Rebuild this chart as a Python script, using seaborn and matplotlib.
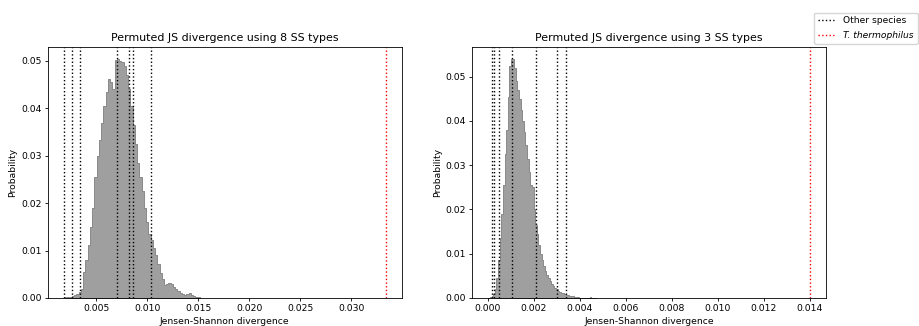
import numpy as np
import pandas as pd
import matplotlib
matplotlib.use("Agg")
import matplotlib.pyplot as plt
import seaborn as sns
from matplotlib.lines import Line2D

# ---- data ----
# 8 SS types: bin heights (probability), uniform bins
ss8_start = 0.00197
ss8_width = 0.00022
ss8_heights = [0.0001, 0.0002, 0.0003, 0.0005, 0.0007, 0.0009, 0.0012, 0.0018,
               0.0055, 0.0080, 0.0112, 0.0150, 0.0190, 0.0255, 0.0300, 0.0332,
               0.0368, 0.0405, 0.0435, 0.0462, 0.0455, 0.0440, 0.0502, 0.0504,
               0.0500, 0.0497, 0.0490, 0.0470, 0.0440, 0.0405, 0.0365, 0.0325,
               0.0285, 0.0255, 0.0225, 0.0190, 0.0160, 0.0135, 0.0122, 0.0105,
               0.0090, 0.0072, 0.0052, 0.0040, 0.0028, 0.0030, 0.0032, 0.0029,
               0.0024, 0.0019, 0.0014, 0.0011, 0.0008, 0.0006, 0.0009, 0.0011,
               0.0007, 0.0005, 0.0003, 0.0002]
ss8_other = [0.00185, 0.00266, 0.00347, 0.00704, 0.00824, 0.00860, 0.01035]
ss8_tth = 0.03333

# 3 SS types
ss3_start = 0.00002
ss3_width = 0.00007
ss3_heights = [0.0001, 0.0002, 0.0004, 0.0008, 0.0020, 0.0045, 0.0085, 0.0135,
               0.0190, 0.0255, 0.0325, 0.0380, 0.0455, 0.0525, 0.0540, 0.0540,
               0.0520, 0.0490, 0.0470, 0.0450, 0.0425, 0.0400, 0.0375, 0.0345,
               0.0315, 0.0285, 0.0255, 0.0250, 0.0200, 0.0165, 0.0145, 0.0120,
               0.0100, 0.0085, 0.0072, 0.0062, 0.0052, 0.0045, 0.0038, 0.0032,
               0.0026, 0.0022, 0.0020, 0.0016, 0.0014, 0.0012, 0.0011, 0.0009,
               0.0007, 0.0006, 0.0005, 0.0004, 0.0004, 0.0003, 0.0002, 0.0002,
               0.0001, 0.0001, 0.0000, 0.0001, 0.0000, 0.0000, 0.0001, 0.0003,
               0.0001, 0.0000, 0.0000]
ss3_other = [0.00018, 0.00027, 0.00049, 0.00105, 0.00208, 0.00301, 0.00338]
ss3_tth = 0.01401

plt.rcParams.update({
    "font.size": 6.6,
    "axes.titlesize": 7.9,
    "axes.labelsize": 6.7,
    "xtick.labelsize": 6.7,
    "ytick.labelsize": 6.7,
    "axes.linewidth": 0.6,
    "xtick.major.width": 0.6,
    "ytick.major.width": 0.6,
    "xtick.major.size": 2.3,
    "ytick.major.size": 2.3,
    "xtick.major.pad": 2.3,
    "ytick.major.pad": 2.3,
    "axes.titlepad": 4,
    "axes.labelpad": 2.6,
})

fig, axes = plt.subplots(1, 2, figsize=(9.19, 3.26), dpi=100)
fig.subplots_adjust(left=0.052, right=0.899, top=0.856, bottom=0.086, wspace=0.2)

panels = [
    (axes[0], ss8_start, ss8_width, ss8_heights, ss8_other, ss8_tth, 8),
    (axes[1], ss3_start, ss3_width, ss3_heights, ss3_other, ss3_tth, 3),
]

for ax, start, width, heights, other, tth, n_types in panels:
    n = len(heights)
    centers = start + width * (np.arange(n) + 0.5)
    df = pd.DataFrame({"js": centers, "p": heights})
    sns.histplot(data=df, x="js", weights="p", binwidth=width,
                 binrange=(start, start + n * width), element="step",
                 color="#7f7f7f", alpha=0.75, linewidth=0.6, ax=ax)
    for v in other:
        ax.axvline(v, color="black", linestyle=":", linewidth=1.0)
    ax.axvline(tth, color="red", linestyle=":", linewidth=1.0)
    ax.set_title("Permuted JS divergence using {0} SS types".format(n_types))
    ax.set_xlabel("Jensen-Shannon divergence")
    ax.set_ylabel("Probability")

handles = [Line2D([], [], color="black", linestyle=":", linewidth=1.0),
           Line2D([], [], color="red", linestyle=":", linewidth=1.0)]
leg = fig.legend(handles, ["Other species", "T. thermophilus"],
                 loc="upper left", bbox_to_anchor=(814 / 919, 1 - 12.5 / 326),
                 fontsize=6.6, handlelength=1.8, handletextpad=1.0,
                 labelspacing=0.65, borderaxespad=0)
leg.get_texts()[1].set_fontstyle("italic")

plt.savefig("out.png", dpi=100)
